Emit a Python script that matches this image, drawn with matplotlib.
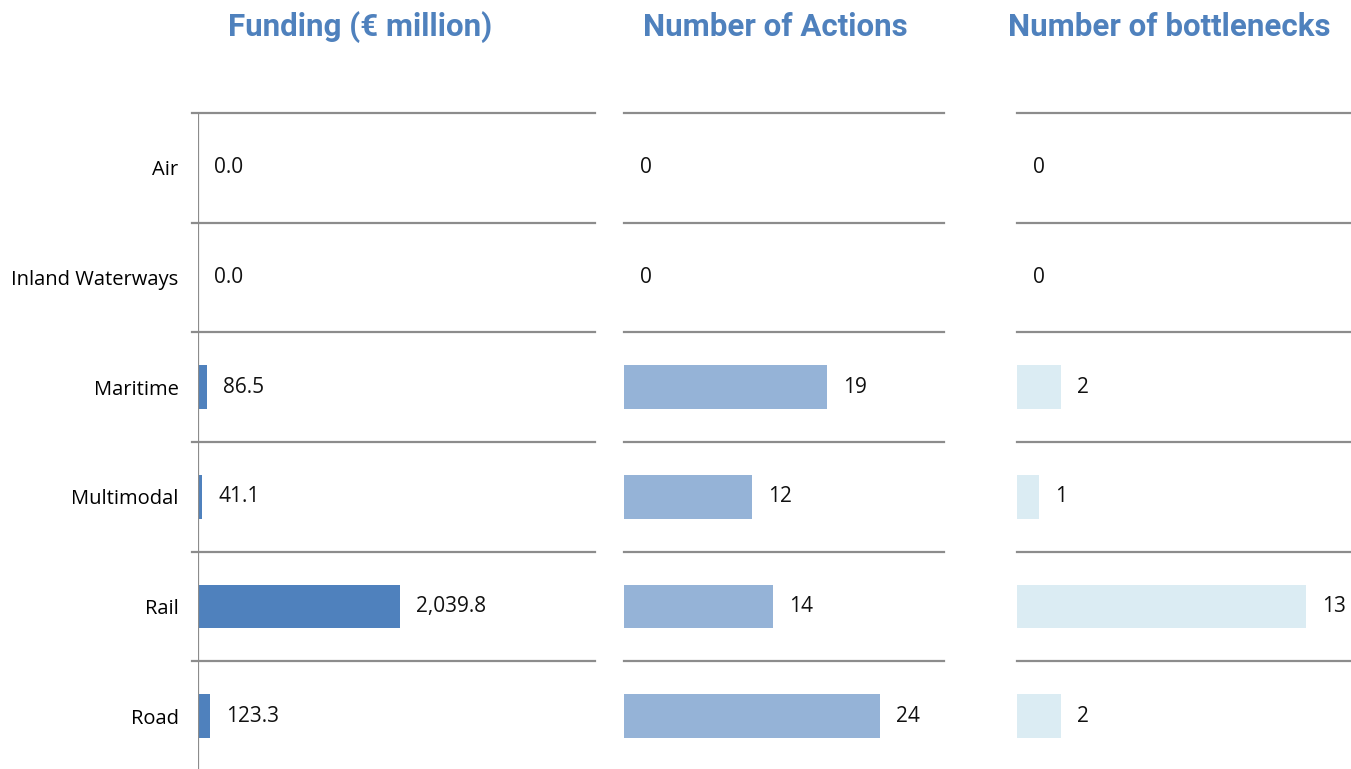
import numpy as np
import matplotlib
matplotlib.use("Agg")
import matplotlib.pyplot as plt

# data
modes = ["Air", "Inland Waterways", "Maritime", "Multimodal", "Rail", "Road"]
funding = [0.0, 0.0, 86.5, 41.1, 2039.8, 123.3]
actions = [0, 0, 19, 12, 14, 24]
bottlenecks = [0, 0, 2, 1, 13, 2]

titles = ["Funding (\u20ac million)", "Number of Actions", "Number of bottlenecks"]
bar_colors = ["#4f81bd", "#95b3d7", "#dbecf3"]
title_color = "#4f81bd"
line_color = "#8c8c8c"

plt.rcParams['font.family'] = ['Open Sans', 'DejaVu Sans']

fig = plt.figure(figsize=(13.51, 7.69), dpi=100)
fig.patch.set_color('white')

# axes boxes (left, bottom, width, height) in figure fraction
top = 1 - 113 / 769.
bot = -2 / 769.
boxes = [
    (198 / 1351., bot, 397 / 1351., top - bot),
    (624 / 1351., bot, 320 / 1351., top - bot),
    (1017 / 1351., bot, 333 / 1351., top - bot),
]
xmaxes = [4000, 30, 15]
series = [funding, actions, bottlenecks]
fmts = [lambda v: "{:,.1f}".format(v), lambda v: "%d" % v, lambda v: "%d" % v]
title_x = [360, 775, 1169]

y = np.arange(len(modes))
for i in range(3):
    ax = fig.add_axes(boxes[i])
    ax.barh(y, series[i], height=0.4, color=bar_colors[i], zorder=2)
    ax.set_xlim(0, xmaxes[i])
    ax.set_ylim(len(modes) - 0.5, -0.5)
    for s in ax.spines.values():
        s.set_visible(False)
    ax.set_xticks([])
    ax.tick_params(axis='y', length=0, labelsize=14.5, pad=14)
    if i == 0:
        ax.set_yticks(y)
        ax.set_yticklabels(modes)
        ax.axvline(0, color=line_color, lw=1.6, zorder=3)
        xstart = -6 / 397.
    else:
        ax.set_yticks([])
        xstart = 0
    for b in np.arange(-0.5, len(modes) - 1, 1.0):
        ax.axhline(b, xmin=xstart, xmax=1, color=line_color, lw=1.6, clip_on=False, zorder=1)
    for yy, v in zip(y, series[i]):
        ax.annotate(fmts[i](v), xy=(v, yy), xytext=(11.5, 0), textcoords='offset points',
                    ha='left', va='center', fontsize=15, color='#111111')
    fig.text(title_x[i] / 1351., 1 - 27 / 769., titles[i], ha='center', va='center',
             fontsize=22.5, fontweight='bold', color=title_color, family=['Roboto', 'DejaVu Sans'])

fig.savefig("out.png", dpi=100)
